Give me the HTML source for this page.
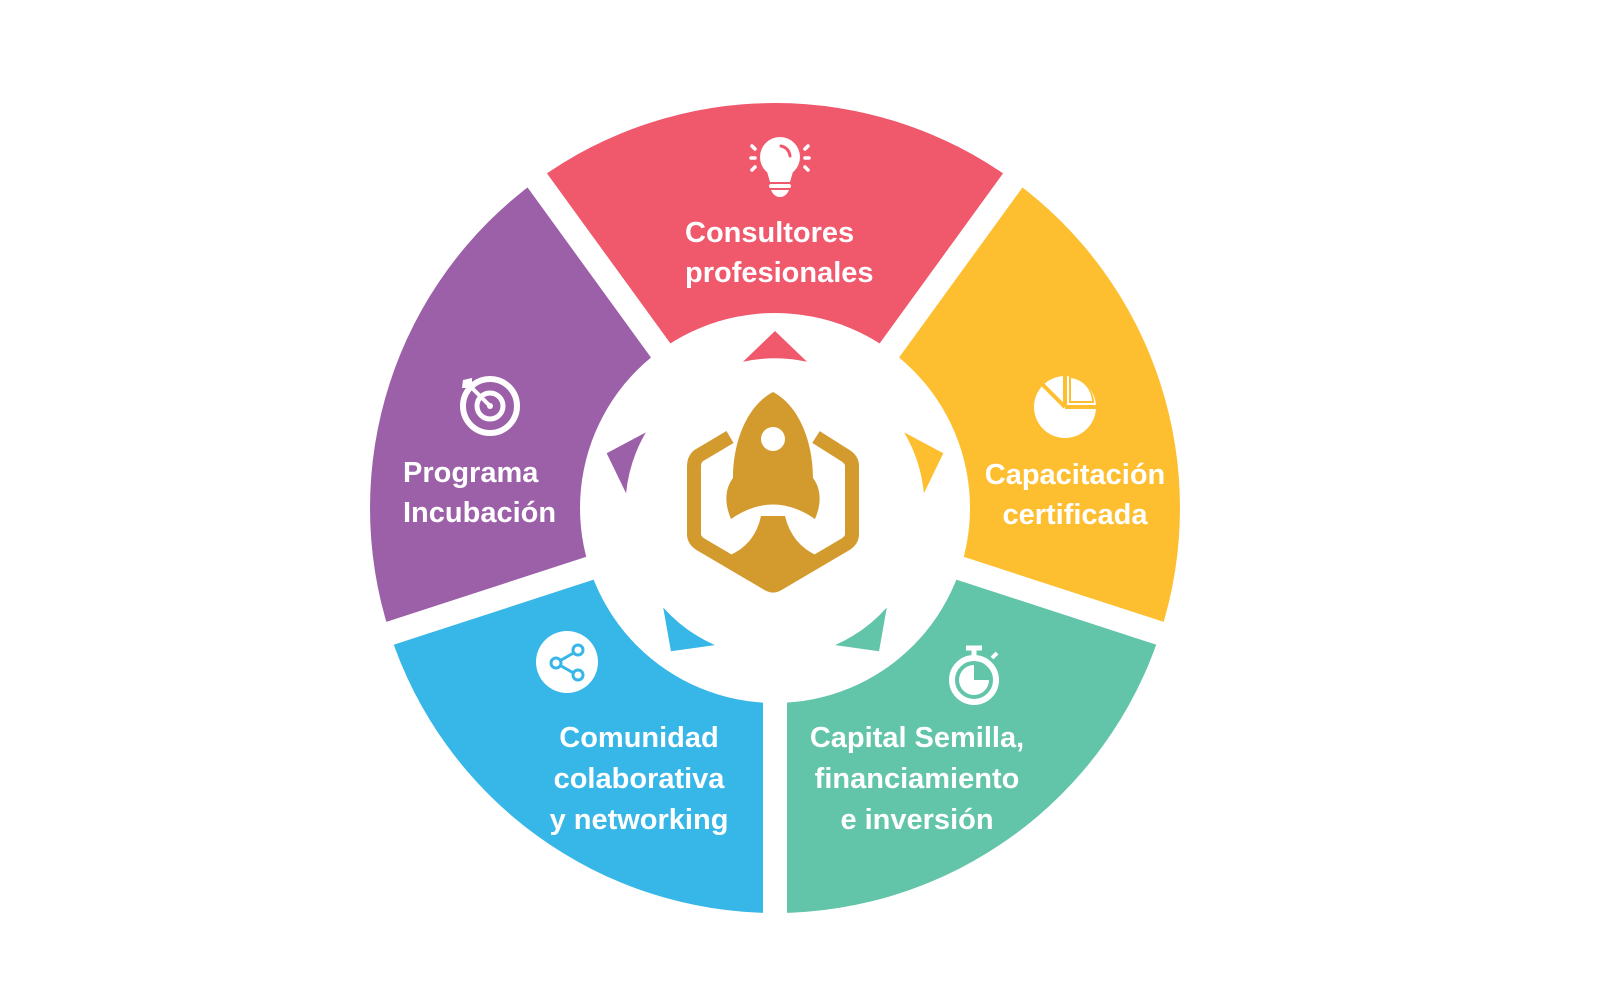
<!DOCTYPE html>
<html><head><meta charset="utf-8"><style>
html,body{margin:0;padding:0;background:#fff;width:1600px;height:1000px;overflow:hidden}
svg{display:block}
text{font-family:"Liberation Sans",sans-serif;font-weight:bold;font-size:29px;fill:#fff}
</style></head><body>
<svg width="1600" height="1000" viewBox="0 0 1600 1000">
<path d="M775,508 L1013.1,180.4 A405,405 0 0 0 536.9,180.4 Z" fill="#F0586C"/>
<path d="M775,508 L536.9,180.4 A405,405 0 0 0 389.8,633.1 Z" fill="#9C60A8"/>
<path d="M775,508 L389.8,633.1 A405,405 0 0 0 775,913 Z" fill="#37B6E8"/>
<path d="M775,508 L775,913 A405,405 0 0 0 1160.2,633.1 Z" fill="#62C4A8"/>
<path d="M775,508 L1160.2,633.1 A405,405 0 0 0 1013.1,180.4 Z" fill="#FDBF30"/>
<g stroke="#fff" stroke-width="24">
<line x1="775" y1="508" x2="1037" y2="147"/>
<line x1="775" y1="508" x2="513" y2="147"/>
<line x1="775" y1="508" x2="351" y2="646"/>
<line x1="775" y1="508" x2="775" y2="960"/>
<line x1="775" y1="508" x2="1199" y2="646"/>
</g>
<circle cx="775" cy="508" r="195" fill="#fff"/>
<g>
<path d="M775,331 L807,361.8 A150 150 0 0 0 743,361.8 Z" fill="#F0586C"/>
<path d="M775,331 L807,361.8 A150 150 0 0 0 743,361.8 Z" fill="#9C60A8" transform="rotate(-72 775 508)"/>
<path d="M775,331 L807,361.8 A150 150 0 0 0 743,361.8 Z" fill="#FDBF30" transform="rotate(72 775 508)"/>
<path d="M775,331 L807,361.8 A150 150 0 0 0 743,361.8 Z" fill="#37B6E8" transform="rotate(-144 775 508)"/>
<path d="M775,331 L807,361.8 A150 150 0 0 0 743,361.8 Z" fill="#62C4A8" transform="rotate(144 775 508)"/>
</g>
<g fill="#D39A2E">
<path d="M730,437 L698,456 Q694,460 694,466 L694,534 Q694,540 700,544 L768,584 Q773,587 778,584 L846,544 Q852,540 852,534 L852,466 Q852,460 846,456 L816,437" fill="none" stroke="#D39A2E" stroke-width="14" stroke-linejoin="round"/>
<path d="M698,540 Q715,560 728,556 Q755,545 761,516 L785,516 Q792,545 818,556 Q832,560 848,540 L773,588 Z"/>
<path d="M773,392 C748,405 733,440 733,478 C724,490 725,505 731,519 Q773,490 815,519 C821,505 822,490 813,478 C813,440 798,405 773,392 Z"/>
<circle cx="773" cy="439" r="12" fill="#fff"/>
</g>
<g fill="#fff">
<circle cx="780" cy="157" r="20"/>
<path d="M766,168 L794,168 L790,182 L770,182 Z"/>
<rect x="769" y="184" width="22" height="4" rx="2"/>
<path d="M771,190 L789,190 Q786,197 780,197 Q774,197 771,190 Z"/>
<path d="M781,146 Q789,148 790,156" fill="none" stroke="#F0586C" stroke-width="3" stroke-linecap="round"/>
<g stroke="#fff" stroke-width="3.5" stroke-linecap="round">
<line x1="752" y1="146" x2="755" y2="149"/><line x1="751" y1="158" x2="755" y2="158"/><line x1="752" y1="170" x2="755" y2="167"/>
<line x1="808" y1="146" x2="805" y2="149"/><line x1="809" y1="158" x2="805" y2="158"/><line x1="808" y1="170" x2="805" y2="167"/>
</g>
</g>
<g fill="none" stroke="#fff">
<circle cx="490" cy="406" r="27" stroke-width="6"/>
<circle cx="490" cy="406" r="13" stroke-width="5"/>
<circle cx="490" cy="406" r="3" fill="#fff" stroke="none"/>
<line x1="490" y1="406" x2="468" y2="384" stroke-width="4"/>
<path d="M463,380 L472,378 L472,388 L462,388 Z" fill="#fff" stroke="none"/>
</g>
<g>
<circle cx="1065" cy="407" r="31" fill="#fff"/>
<path d="M1065,407 L1065,373 M1065,407 L1100,407 M1065,407 L1040,382" stroke="#FDBF30" stroke-width="4"/>
<path d="M1069,376 L1069,403 L1094,403 A27,27 0 0 0 1069,376Z" fill="#FDBF30"/>
<path d="M1071,378 L1071,401 L1092,401 A24,24 0 0 0 1071,378Z" fill="#fff"/>
</g>
<g>
<circle cx="567" cy="662" r="31" fill="#fff"/>
<g stroke="#37B6E8" stroke-width="3" fill="none">
<line x1="556" y1="663" x2="577" y2="651"/><line x1="556" y1="663" x2="577" y2="675"/>
<circle cx="556" cy="663" r="5" fill="#fff"/><circle cx="578" cy="650" r="5" fill="#fff"/><circle cx="578" cy="675" r="5" fill="#fff"/>
</g>
</g>
<g fill="none" stroke="#fff">
<circle cx="974" cy="680" r="22" stroke-width="6"/>
<path d="M974,665 L974,680 L989,680 A15,15 0 1 1 974,665 Z" fill="#fff" stroke="none"/>
<line x1="966" y1="648" x2="982" y2="648" stroke-width="5"/>
<line x1="974" y1="648" x2="974" y2="656" stroke-width="5"/>
<line x1="992" y1="658" x2="997" y2="653" stroke-width="4"/>
</g>
<text x="685" y="242">Consultores</text>
<text x="685" y="282">profesionales</text>
<text x="403" y="482">Programa</text>
<text x="403" y="522">Incubación</text>
<text x="1075" y="484" text-anchor="middle">Capacitación</text>
<text x="1075" y="524" text-anchor="middle">certificada</text>
<text x="639" y="747" text-anchor="middle">Comunidad</text>
<text x="639" y="788" text-anchor="middle">colaborativa</text>
<text x="639" y="829" text-anchor="middle">y networking</text>
<text x="917" y="747" text-anchor="middle">Capital Semilla,</text>
<text x="917" y="788" text-anchor="middle">financiamiento</text>
<text x="917" y="829" text-anchor="middle">e inversión</text>
</svg>
</body></html>
